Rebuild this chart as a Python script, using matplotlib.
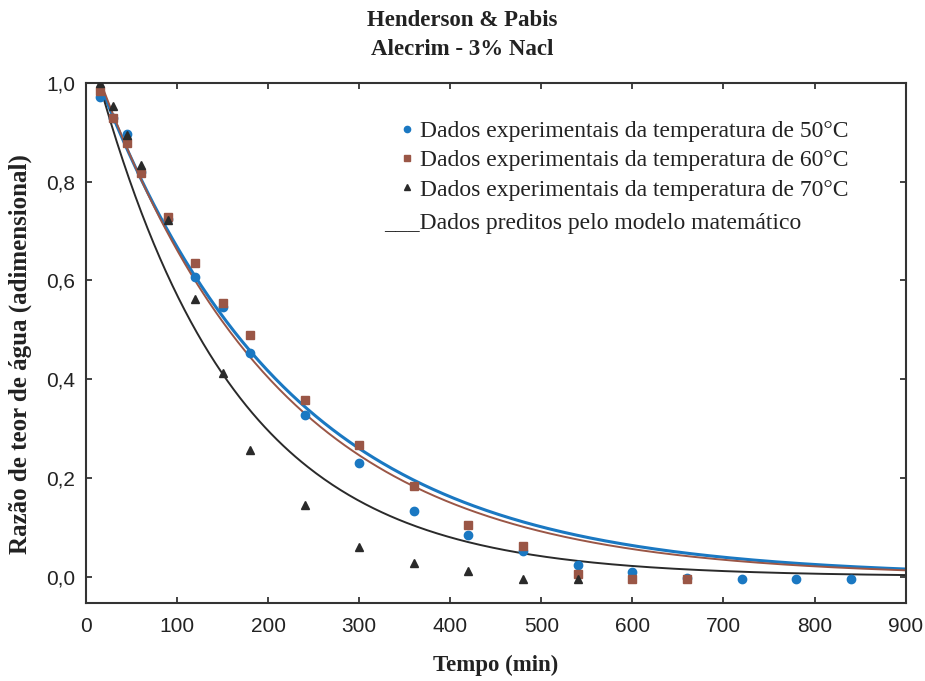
import numpy as np
import matplotlib
matplotlib.use("Agg")
import matplotlib.pyplot as plt
from matplotlib.ticker import FuncFormatter

# experimental data (tempo em min, razao de teor de agua)
t50 = [15, 30, 45, 60, 90, 120, 150, 180, 240, 300, 360, 420, 480, 540, 600, 660, 720, 780, 840]
mr50 = [0.972, 0.93, 0.897, 0.82, 0.725, 0.608, 0.547, 0.454, 0.328, 0.230, 0.133, 0.085,
        0.051, 0.024, 0.010, -0.003, -0.005, -0.006, -0.006]
t60 = [15, 30, 45, 60, 90, 120, 150, 180, 240, 300, 360, 420, 480, 540, 600, 660]
mr60 = [0.984, 0.930, 0.878, 0.817, 0.729, 0.636, 0.555, 0.490, 0.358, 0.267, 0.184, 0.105,
        0.061, 0.005, -0.005, -0.005]
t70 = [15, 30, 45, 60, 90, 120, 150, 180, 240, 300, 360, 420, 480, 540]
mr70 = [1.0, 0.953, 0.895, 0.834, 0.723, 0.562, 0.412, 0.257, 0.144, 0.059, 0.028, 0.011,
        -0.004, -0.006]

# Henderson & Pabis parameters: MR = a * exp(-k t)
a50, k50 = 1.072, 0.00473
a60, k60 = 1.085, 0.00495
a70, k70 = 1.10, 0.00657

c50 = '#1a78c2'
c60 = '#9a5646'
c70 = '#2a2a2a'

fig = plt.figure(figsize=(9.25, 6.81), dpi=100)
ax = fig.add_axes([0.093, 0.115, 0.886, 0.763])

tt = np.linspace(0, 900, 400)
ax.plot(tt, a50 * np.exp(-k50 * tt), color=c50, lw=2.2, zorder=2)
ax.plot(tt, a60 * np.exp(-k60 * tt), color=c60, lw=1.4, zorder=2)
ax.plot(tt, a70 * np.exp(-k70 * tt), color=c70, lw=1.4, zorder=2)

ax.plot(t50, mr50, 'o', color=c50, ms=6, ls='none', zorder=3,
        label='Dados experimentais da temperatura de 50°C')
ax.plot(t60, mr60, 's', color=c60, ms=6, ls='none', zorder=4,
        label='Dados experimentais da temperatura de 60°C')
ax.plot(t70, mr70, '^', color=c70, ms=5.5, ls='none', zorder=5,
        label='Dados experimentais da temperatura de 70°C')

ax.set_xlim(0, 900)
ax.set_ylim(-0.053, 1.0)
ax.set_xticks(np.arange(0, 901, 100))
ax.set_yticks([0.0, 0.2, 0.4, 0.6, 0.8, 1.0])
ax.yaxis.set_major_formatter(FuncFormatter(lambda v, p: ('%.1f' % v).replace('.', ',')))
ax.tick_params(direction='in', length=4, width=1.2, top=True, right=True,
               labelsize=15, colors='#222222')
ax.tick_params(axis='x', pad=10)
ax.tick_params(axis='y', pad=8)
for lab in ax.get_xticklabels() + ax.get_yticklabels():
    lab.set_fontfamily(['Liberation Sans', 'DejaVu Sans'])
for s in ax.spines.values():
    s.set_linewidth(1.5)
    s.set_color('#333333')

serif = ['Liberation Serif', 'DejaVu Serif']
fig.text(0.50, 0.970, 'Henderson & Pabis', ha='center', va='center',
         fontsize=16.5, fontweight='bold', family=serif, color='#222222')
fig.text(0.50, 0.927, 'Alecrim - 3% Nacl', ha='center', va='center',
         fontsize=16.5, fontweight='bold', family=serif, color='#222222')
ax.set_xlabel('Tempo (min)', fontsize=16.5, fontweight='bold', family=serif, labelpad=14,
              color='#222222')
ax.set_ylabel('Razão de teor de água (adimensional)', fontsize=18, fontweight='bold',
              family=serif, color='#222222')
ax.yaxis.set_label_coords(-0.066, 0.478)

leg = ax.legend(loc='upper left', bbox_to_anchor=(0.370, 0.951), frameon=False,
                handlelength=0.5, handletextpad=0.3, labelspacing=0.33, borderpad=0,
                prop={'family': serif, 'size': 17}, markerscale=0.75)
for txt in leg.get_texts():
    txt.set_color('#222222')
ax.text(0.364, 0.729, '___Dados preditos pelo modelo matemático', transform=ax.transAxes,
        fontsize=17, family=serif, va='center', ha='left', color='#222222')

fig.savefig('out.png', dpi=100)
